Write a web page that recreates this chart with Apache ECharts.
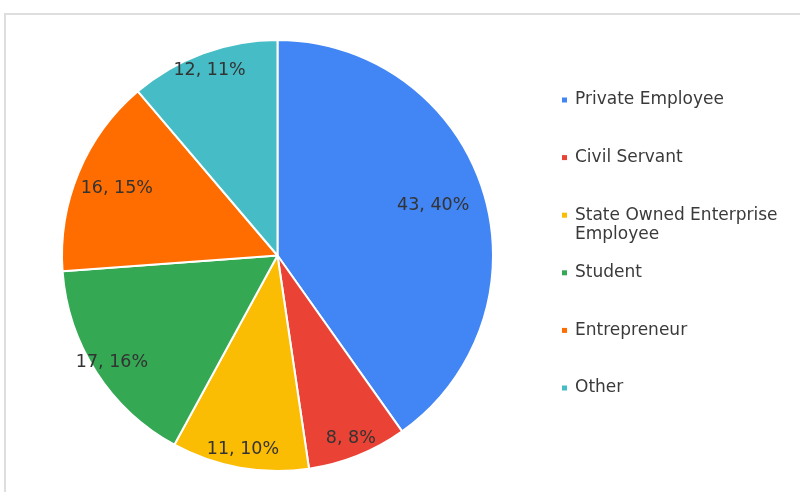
<!DOCTYPE html>
<html>
<head>
<meta charset="utf-8">
<script src="https://cdn.jsdelivr.net/npm/echarts@6/dist/echarts.min.js"></script>
<style>
  html, body { margin: 0; padding: 0; background: #fff; }
  #wrap { position: relative; width: 800px; height: 492px; overflow: hidden; }
  #frame { position: absolute; left: 4px; top: 13px; width: 820px; height: 500px;
           border-left: 2px solid #dedede; border-top: 2px solid #dedede; }
  #chart { position: absolute; left: 0; top: 0; width: 800px; height: 492px; }
</style>
</head>
<body>
<div id="wrap">
  <div id="frame"></div>
  <div id="chart"></div>
</div>
<script>
// Occupation breakdown of respondents
const categories = [
  'Private Employee',
  'Civil Servant',
  'State Owned Enterprise Employee',
  'Student',
  'Entrepreneur',
  'Other'
];
const counts = [43, 8, 11, 17, 16, 12];
const colors = ['#4285F4', '#EA4335', '#FBBC04', '#34A853', '#FF6D01', '#46BDC6'];

const FONT = 'DejaVu Sans';
const CX = 277.5, CY = 255.5, R = 215.5;

// a few labels sit closer to the centre so they stay clear of the rim
const labelOffsets = { 0: [-32, 10], 4: [21, 9] };

const pieData = categories.map((name, i) => ({
  name: name,
  value: counts[i],
  itemStyle: { color: colors[i] }
}));

const labelData = categories.map((name, i) => ({
  name: name,
  value: counts[i],
  label: labelOffsets[i] ? { offset: labelOffsets[i] } : {}
}));

// one legend block per entry so that the wrapped entry keeps the even spacing;
// the wrapped entry gets a blank leading line so its first line sits beside the swatch
const legendCenters = [100, 157.6, 215.2, 272.8, 330.4, 388];
const LH = 19;
const legends = categories.map((name, i) => {
  const wrapped = name === 'State Owned Enterprise Employee';
  return {
    data: [name],
    orient: 'vertical',
    left: 562,
    top: wrapped ? legendCenters[i] - LH * 1.5 : legendCenters[i] - LH / 2,
    padding: 0,
    icon: 'rect',
    itemWidth: 5,
    itemHeight: 5,
    itemStyle: { borderWidth: 0 },
    formatter: wrapped ? '\nState Owned Enterprise\nEmployee' : '{name}',
    textStyle: {
      fontFamily: FONT,
      fontSize: 17,
      color: '#3a3a3a',
      lineHeight: LH,
      padding: [0, 0, 0, 3]
    }
  };
});

const chart = echarts.init(document.getElementById('chart'), null, { renderer: 'canvas' });
chart.setOption({
  animation: false,
  backgroundColor: 'transparent',
  color: colors,
  legend: legends,
  series: [
    {
      type: 'pie',
      center: [CX, CY],
      radius: [0, R],
      startAngle: 90,
      clockwise: true,
      avoidLabelOverlap: false,
      percentPrecision: 0,
      itemStyle: { borderColor: '#ffffff', borderWidth: 2 },
      label: { show: false },
      labelLine: { show: false },
      emphasis: { disabled: true },
      data: pieData
    },
    {
      // transparent ring that only carries the value labels
      type: 'pie',
      center: [CX, CY],
      radius: [R * 0.8, R],
      startAngle: 90,
      clockwise: true,
      avoidLabelOverlap: false,
      silent: true,
      percentPrecision: 0,
      itemStyle: { color: 'rgba(0,0,0,0)', borderWidth: 0 },
      label: {
        show: true,
        position: 'inside',
        formatter: '{c}, {d}%',
        fontFamily: FONT,
        fontSize: 17.5,
        color: '#333333'
      },
      labelLine: { show: false },
      emphasis: { disabled: true },
      data: labelData
    }
  ]
});
</script>
</body>
</html>
